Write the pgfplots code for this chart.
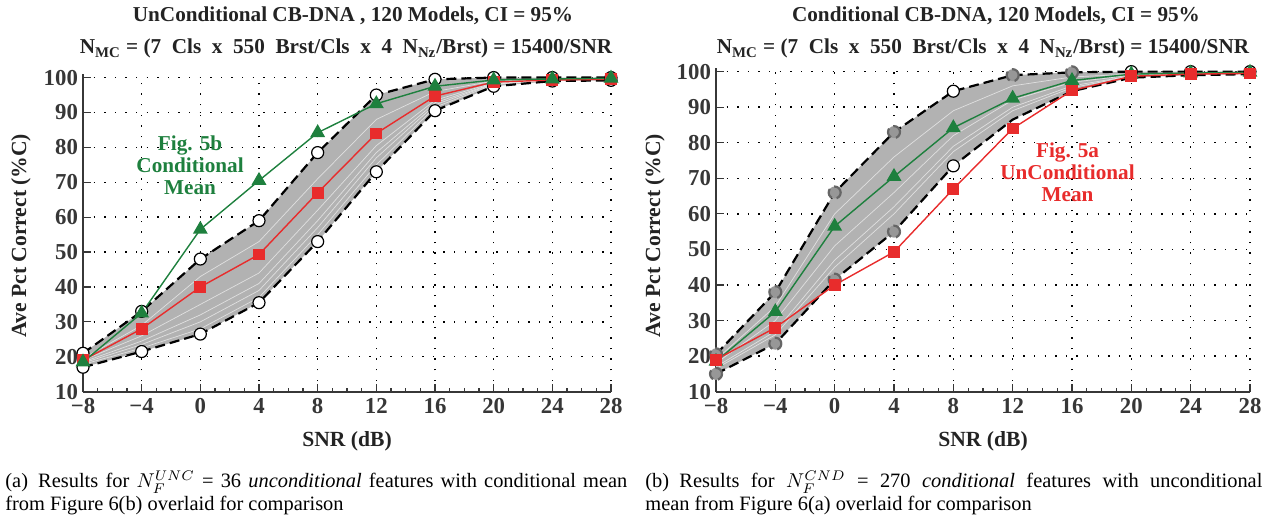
\documentclass[border=0pt]{standalone}
\usepackage{fontspec}
\setmainfont{Liberation Serif}
\usepackage{pgfplots}
\pgfplotsset{compat=1.18}
\usepgfplotslibrary{fillbetween}

\definecolor{mred}{RGB}{232,44,44}
\definecolor{mgreen}{RGB}{30,128,62}
\definecolor{band}{RGB}{178,178,178}
\definecolor{axgray}{RGB}{55,55,55}
\definecolor{txt}{RGB}{35,35,35}

\newcommand\tickfont{\fontsize{11.4}{12}\selectfont\bfseries}
\newcommand\lblfont{\fontsize{10.8}{12}\selectfont\bfseries}
\newcommand\ttlfont{\fontsize{10.6}{12}\selectfont\bfseries}
\newcommand\capfont{\fontsize{10.2}{11.2}\selectfont}

\pgfplotsset{
  snr/.style={
    scale only axis, anchor=south west,
    xmin=-8, xmax=28, ymin=10, ymax=101,
    xtick={-8,-4,...,28},
    xticklabels={−8,−4,0,4,8,12,16,20,24,28},
    ytick={10,20,...,100},
    minor x tick num=3,
    axis x line=bottom, axis y line=left,
    axis line style={-, line width=1pt, axgray},
    tick style={axgray, line width=0.6pt},
    tick align=inside,
    major tick length=4pt, minor tick length=2pt,
    grid=major,
    major grid style={black, line width=0.7pt, dash pattern=on 0.7pt off 4.6pt},
    ticklabel style={font=\tickfont, text=axgray},
    yticklabel style={xshift=1pt},
    /pgf/number format/assume math mode=true,
    clip=false,
  },
  bound/.style={black, line width=1.1pt, dash pattern=on 5pt off 2.5pt,
    mark=*, mark size=3pt, mark options={solid, fill=white, draw=black, line width=0.6pt}},
  redmean/.style={mred, line width=0.7pt, mark=square*, mark size=2.6pt, mark options={solid}},
  greenmean/.style={mgreen, line width=0.7pt, mark=triangle*, mark size=3.6pt, mark options={solid}},
  streak/.style={white, opacity=0.6, line width=0.35pt},
}

\begin{document}
\begin{tikzpicture}
\path (0,0) rectangle (637pt,-260.5pt);

% ---------------- left: unconditional ----------------
\begin{axis}[snr, at={(41.5pt,-194pt)}, width=264pt, height=158.8pt]
  \addplot[draw=none, name path=upL] coordinates {
    (-8,21) (-4,33) (0,48) (4,59) (8,78.5) (12,95) (16,99.5) (20,100) (24,100) (28,100)};
  \addplot[draw=none, name path=loL] coordinates {
    (-8,17) (-4,21.5) (0,26.5) (4,35.5) (8,53) (12,73) (16,90.5) (20,97.5) (24,99) (28,99.2)};
  \addplot[band] fill between[of=upL and loL];
  \addplot[streak] coordinates {(-8,17.8) (-4,22.5) (0,28) (4,37) (8,55) (12,75) (16,91.5) (20,98) (24,99.2) (28,99.4)};
  \addplot[streak] coordinates {(-8,18.2) (-4,23.5) (0,30) (4,39) (8,57) (12,77) (16,92.2) (20,98.2) (24,99.3) (28,99.5)};
  \addplot[streak] coordinates {(-8,18.5) (-4,24.5) (0,32) (4,41) (8,59) (12,78.5) (16,92.8) (20,98.3) (24,99.3) (28,99.5)};
  \addplot[streak] coordinates {(-8,19) (-4,26) (0,35) (4,44) (8,62) (12,80.5) (16,93.5) (20,98.5) (24,99.4) (28,99.6)};
  \addplot[streak] coordinates {(-8,19.5) (-4,29) (0,43) (4,53) (8,71) (12,88) (16,96) (20,99) (24,99.5) (28,99.7)};
  \addplot[bound] coordinates {
    (-8,21) (-4,33) (0,48) (4,59) (8,78.5) (12,95) (16,99.5) (20,100) (24,100) (28,100)};
  \addplot[bound] coordinates {
    (-8,17) (-4,21.5) (0,26.5) (4,35.5) (8,53) (12,73) (16,90.5) (20,97.5) (24,99) (28,99.2)};
  \addplot[redmean] coordinates {
    (-8,19) (-4,28) (0,40) (4,49.3) (8,67) (12,84) (16,94.7) (20,98.7) (24,99.3) (28,99.5)};
  \addplot[greenmean] coordinates {
    (-8,18.5) (-4,32.5) (0,56.5) (4,70.5) (8,84.2) (12,92.5) (16,97.5) (20,99.3) (24,99.6) (28,99.8)};
  \node[mgreen, font=\fontsize{10.6}{11}\selectfont\bfseries, align=center] at (axis cs:-0.7,74.9) {Fig. 5b\\Conditional\\Mean};
\end{axis}

% ---------------- right: conditional ----------------
\begin{axis}[snr, at={(358pt,-194pt)}, width=267pt, height=161.8pt]
  \addplot[draw=none, name path=upR] coordinates {
    (-8,20.5) (-4,38) (0,66) (4,83) (8,94.5) (12,99) (16,99.8) (20,100) (24,100) (28,100)};
  \addplot[draw=none, name path=loR] coordinates {
    (-8,15) (-4,23.5) (0,41.5) (4,55) (8,73.5) (12,86.5) (16,94.5) (20,98.3) (24,99) (28,99.3)};
  \addplot[band] fill between[of=upR and loR];
  \addplot[streak] coordinates {(-8,16.5) (-4,26) (0,45) (4,60) (8,77.5) (12,89) (16,95.5) (20,98.7) (24,99.2) (28,99.5)};
  \addplot[streak] coordinates {(-8,17) (-4,27) (0,47) (4,62) (8,79) (12,90) (16,96) (20,98.8) (24,99.3) (28,99.5)};
  \addplot[streak] coordinates {(-8,18) (-4,30) (0,51) (4,66) (8,82) (12,92) (16,97) (20,99) (24,99.4) (28,99.6)};
  \addplot[streak] coordinates {(-8,19) (-4,34) (0,60) (4,76) (8,89) (12,96) (16,98.5) (20,99.3) (24,99.6) (28,99.7)};
  \addplot[bound, mark=none] coordinates {
    (-8,20.5) (-4,38) (0,66) (4,83) (8,94.5) (12,99) (16,99.8) (20,100) (24,100) (28,100)};
  \addplot[bound, mark=none] coordinates {
    (-8,15) (-4,23.5) (0,41.5) (4,55) (8,73.5) (12,86.5) (16,94.5) (20,98.3) (24,99) (28,99.3)};
  \addplot[bound, only marks, mark options={fill=band!85!black, draw=black!60}] coordinates {
    (-8,20.5) (-4,38) (0,66) (4,83) (12,99) (16,99.8) (-8,15) (-4,23.5) (0,41.5) (4,55)};
  \addplot[bound, only marks] coordinates {
    (8,94.5) (20,100) (24,100) (28,100) (8,73.5)};
  \addplot[greenmean] coordinates {
    (-8,18.5) (-4,32.5) (0,56.5) (4,70.5) (8,84.2) (12,92.5) (16,97.5) (20,99.3) (24,99.6) (28,99.8)};
  \addplot[redmean] coordinates {
    (-8,19) (-4,28) (0,40) (4,49.3) (8,67) (12,84) (16,94.7) (20,98.7) (24,99.3) (28,99.5)};
  \node[mred, font=\fontsize{10.6}{11}\selectfont\bfseries, align=center] at (axis cs:15.7,71.7) {Fig. 5a\\UnConditional\\Mean};
\end{axis}

% ---------------- titles and labels ----------------
\node[txt, font=\ttlfont] at (176.5pt,-6pt) {UnConditional CB-DNA , 120 Models, CI = 95\%};
\node[txt, font=\ttlfont] at (173pt,-22.5pt) {N\textsubscript{MC} = (7\ \ Cls\ \ x\ \ 550\ \ Brst/Cls\ \ x\ \ 4\ \ N\textsubscript{Nz}/Brst) = 15400/SNR};
\node[txt, font=\ttlfont] at (498pt,-6pt) {Conditional CB-DNA, 120 Models, CI = 95\%};
\node[txt, font=\ttlfont] at (491.5pt,-22.5pt) {N\textsubscript{MC} = (7\ \ Cls\ \ x\ \ 550\ \ Brst/Cls\ \ x\ \ 4\ \ N\textsubscript{Nz}/Brst) = 15400/SNR};

\node[txt, rotate=90, font=\lblfont] at (10.5pt,-116pt) {Ave Pct Correct (\%C)};
\node[txt, rotate=90, font=\lblfont] at (327.5pt,-116pt) {Ave Pct Correct (\%C)};
\node[txt, font=\lblfont] at (173.5pt,-219pt) {SNR (dB)};
\node[txt, font=\lblfont] at (491.5pt,-219pt) {SNR (dB)};

% ---------------- captions ----------------
\node[anchor=north west, text width=311pt, align=justify, inner sep=0pt, font=\capfont] at (2.5pt,-233.5pt)
  {\lineskiplimit=-6pt (a)\enspace Results for $N_F^{UNC}$ = 36 \textit{unconditional} features with conditional mean\linebreak from Figure 6(b) overlaid for comparison};
\node[anchor=north west, text width=308.5pt, align=justify, inner sep=0pt, font=\capfont] at (322.5pt,-233.5pt)
  {\lineskiplimit=-6pt (b)\enspace Results for $N_F^{CND}$ = 270 \textit{conditional} features with unconditional\linebreak mean from Figure 6(a) overlaid for comparison};
\end{tikzpicture}
\end{document}
